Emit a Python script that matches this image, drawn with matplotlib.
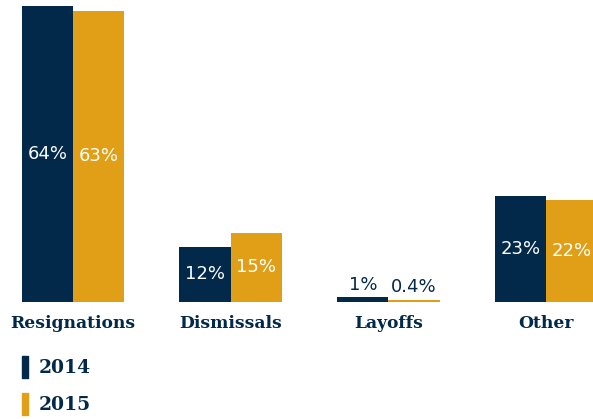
import matplotlib.pyplot as plt
from matplotlib.patches import Rectangle
import numpy as np

# Reasons for leaving, share of separations
categories = ['Resignations', 'Dismissals', 'Layoffs', 'Other']
values_2014 = [64, 12, 1, 23]
values_2015 = [63, 15, 0.4, 22]
labels_2014 = ['64%', '12%', '1%', '23%']
labels_2015 = ['63%', '15%', '0.4%', '22%']
years = ['2014', '2015']

navy = '#03294a'
gold = '#e19f17'
serif = ['DejaVu Serif']
sans = ['DejaVu Sans']

fig = plt.figure(figsize=(5.93, 4.19), dpi=100)
ax = fig.add_axes([0, 0.2792, 1, 0.7064])

x = np.arange(len(categories))
w = 0.325
bars1 = ax.bar(x - w, values_2014, w, align='edge', color=navy)
bars2 = ax.bar(x, values_2015, w, align='edge', color=gold)

# value labels: inside the bar when tall enough, otherwise just above it
for bars, labels in [(bars1, labels_2014), (bars2, labels_2015)]:
    for b, lab in zip(bars, labels):
        h = b.get_height()
        cx = b.get_x() + b.get_width() / 2
        if h > 5:
            ax.text(cx, h / 2, lab, ha='center', va='center', color='white',
                    fontsize=13, family=sans)
        else:
            ax.text(cx, h + 0.8, lab, ha='center', va='bottom', color=navy,
                    fontsize=13, family=sans)

ax.set_xlim(-0.463, 3.297)
ax.set_ylim(0, 64)
ax.set_xticks(x)
ax.set_xticklabels(categories, family=serif, fontweight='bold', fontsize=12.3, color=navy)
ax.tick_params(axis='x', length=0, pad=9)
ax.set_yticks([])
for s in ax.spines.values():
    s.set_visible(False)

# legend drawn by hand: thin colour bar + year
W, H = 593, 419
for i, (yr, col) in enumerate(zip(years, [navy, gold])):
    top = 356 + i * 37
    fig.add_artist(Rectangle((22 / W, 1 - (top + 22) / H), 5.5 / W, 22 / H,
                             transform=fig.transFigure, color=col))
    fig.text(39 / W, 1 - (top + 12) / H, yr, ha='left', va='center',
             family=serif, fontweight='bold', fontsize=13.5, color=navy)

fig.savefig('out.png', dpi=100)
